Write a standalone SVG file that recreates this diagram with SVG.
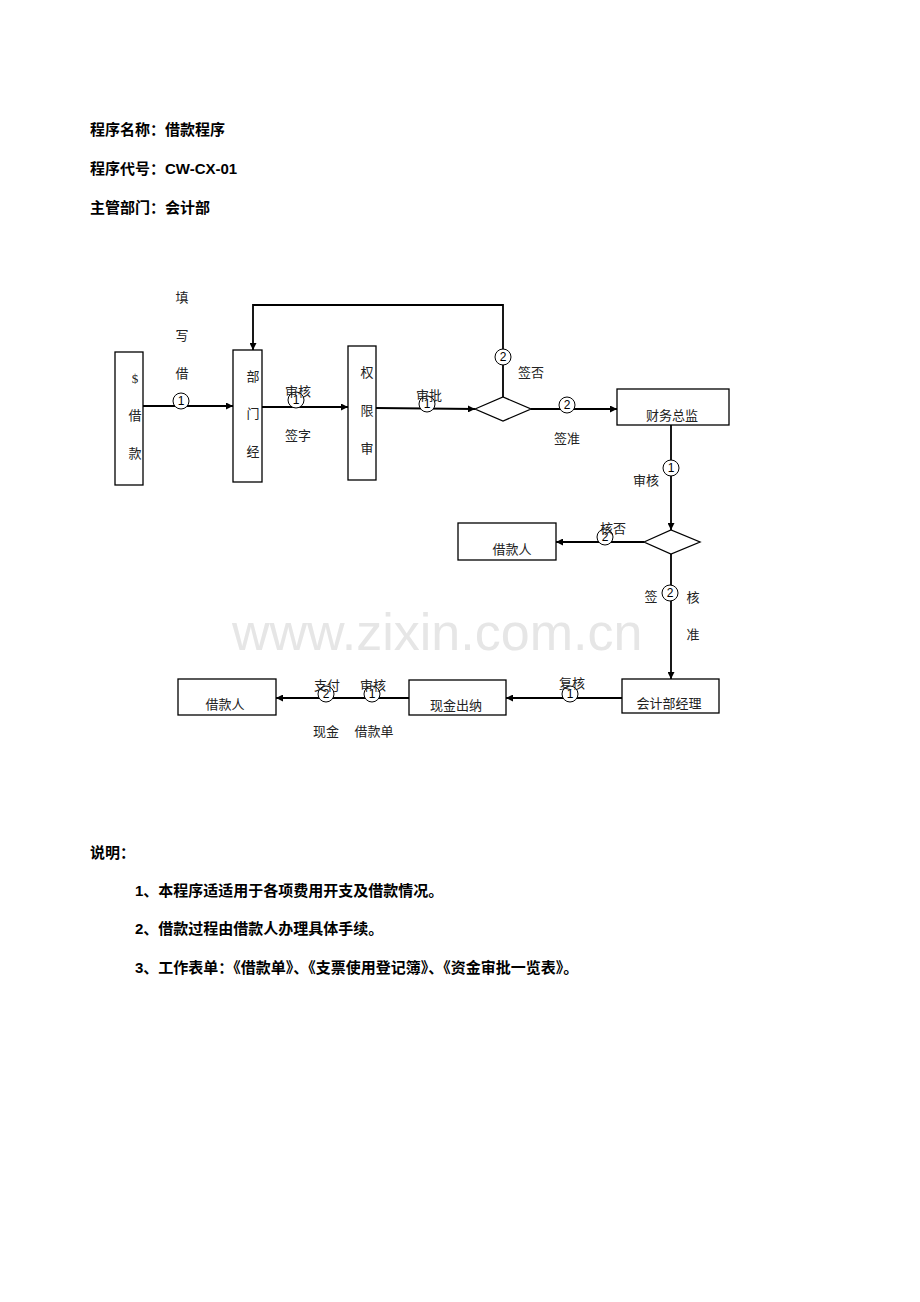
<svg xmlns="http://www.w3.org/2000/svg" width="920" height="1302" viewBox="0 0 920 1302">
<style>
.h{font-family:"Liberation Sans","Noto Sans CJK SC",sans-serif;font-size:15px;font-weight:bold;fill:#000}
.t{font-family:"Liberation Serif","Noto Sans CJK SC",serif;font-size:13px;fill:#222;text-anchor:middle}
.b{fill:#fff;stroke:#000;stroke-width:1.3}
.l{fill:none;stroke:#000;stroke-width:1.3}
.a{fill:none;stroke:#000;stroke-width:1.8;marker-end:url(#ar)}
.c{fill:#fff;stroke:#000;stroke-width:1}
.n{font-family:"Liberation Sans",sans-serif;font-size:12px;text-anchor:middle;fill:#000}
</style>
<defs><marker id="ar" viewBox="0 0 10 10" refX="10" refY="5" markerWidth="7" markerHeight="7" markerUnits="userSpaceOnUse" orient="auto"><path d="M0,0L10,5L0,10z" fill="#000"/></marker></defs>
<rect width="920" height="1302" fill="#fff"/>
<text x="232" y="650" font-family="Liberation Sans,sans-serif" font-size="52" fill="#e6e6e6">www.zixin.com.cn</text>
<g id="header">
<text class="h" x="90" y="135">程序名称：借款程序</text>
<text class="h" x="90" y="174">程序代号：CW-CX-01</text>
<text class="h" x="90" y="213">主管部门：会计部</text>
</g>
<g id="connectors">
<line class="a" x1="143" y1="406" x2="233" y2="406"/>
<line class="a" x1="262" y1="407" x2="348" y2="407"/>
<line class="a" x1="376" y1="408" x2="475" y2="409"/>
<path class="a" d="M503,397V305H253V350"/>
<line class="a" x1="531" y1="409" x2="617" y2="409"/>
<line class="a" x1="671" y1="425" x2="671" y2="530"/>
<line class="a" x1="644" y1="542" x2="556" y2="542"/>
<line class="a" x1="671" y1="554" x2="671" y2="679"/>
<line class="a" x1="622" y1="698" x2="506" y2="698"/>
<line class="a" x1="409" y1="698" x2="276" y2="698"/>
<g>
<circle class="c" cx="181" cy="401" r="8"/><text class="n" x="181" y="405">1</text>
<circle class="c" cx="296" cy="400" r="8"/><text class="n" x="296" y="404">1</text>
<circle class="c" cx="427" cy="404" r="8"/><text class="n" x="427" y="408">1</text>
<circle class="c" cx="503" cy="357" r="8"/><text class="n" x="503" y="361">2</text>
<circle class="c" cx="567" cy="405" r="8"/><text class="n" x="567" y="409">2</text>
<circle class="c" cx="671" cy="468" r="8"/><text class="n" x="671" y="472">1</text>
<circle class="c" cx="605" cy="537" r="8"/><text class="n" x="605" y="541">2</text>
<circle class="c" cx="670" cy="593" r="8"/><text class="n" x="670" y="597">2</text>
<circle class="c" cx="570" cy="694" r="8"/><text class="n" x="570" y="698">1</text>
<circle class="c" cx="372" cy="694" r="8"/><text class="n" x="372" y="698">1</text>
<circle class="c" cx="326" cy="694" r="8"/><text class="n" x="326" y="698">2</text>
</g>
<g>
<text class="t" x="182" y="302">填</text><text class="t" x="182" y="340">写</text><text class="t" x="182" y="378">借</text>
<text class="t" x="298" y="396">审核</text><text class="t" x="298" y="440">签字</text>
<text class="t" x="429" y="400">审批</text>
<text class="t" x="531" y="377">签否</text><text class="t" x="567" y="443">签准</text>
<text class="t" x="646" y="485">审核</text><text class="t" x="613" y="533">核否</text>
<text class="t" x="651" y="601">签</text><text class="t" x="693" y="602">核</text><text class="t" x="693" y="639">准</text>
<text class="t" x="572" y="688">复核</text>
<text class="t" x="327" y="690">支付</text><text class="t" x="373" y="690">审核</text>
<text class="t" x="326" y="736">现金</text><text class="t" x="374" y="736">借款单</text>
</g>
</g>
<g id="n1"><rect class="b" x="115" y="352" width="28" height="133"/><text class="t" x="135" y="383">$</text><text class="t" x="135" y="420">借</text><text class="t" x="135" y="458">款</text></g>
<g id="n2"><rect class="b" x="233" y="350" width="29" height="132"/><text class="t" x="253" y="381">部</text><text class="t" x="253" y="418">门</text><text class="t" x="253" y="456">经</text></g>
<g id="n3"><rect class="b" x="348" y="346" width="28" height="134"/><text class="t" x="367" y="377">权</text><text class="t" x="367" y="415">限</text><text class="t" x="367" y="453">审</text></g>
<g id="d1"><polygon class="b" points="475,409 503,397 531,409 503,421"/></g>
<g id="n4"><rect class="b" x="617" y="389" width="112" height="36"/><text class="t" x="672" y="420">财务总监</text></g>
<g id="d2"><polygon class="b" points="644,542 671,530 700,542 671,554"/></g>
<g id="n5"><rect class="b" x="458" y="523" width="98" height="37"/><text class="t" x="512" y="554">借款人</text></g>
<g id="n6"><rect class="b" x="622" y="679" width="97" height="34"/><text class="t" x="669" y="708">会计部经理</text></g>
<g id="n7"><rect class="b" x="409" y="680" width="97" height="35"/><text class="t" x="456" y="710">现金出纳</text></g>
<g id="n8"><rect class="b" x="178" y="679" width="98" height="36"/><text class="t" x="225" y="709">借款人</text></g>
<g id="notes">
<text class="h" x="90" y="858">说明：</text>
<text class="h" x="135" y="896">1、本程序适适用于各项费用开支及借款情况。</text>
<text class="h" x="135" y="934">2、借款过程由借款人办理具体手续。</text>
<text class="h" x="135" y="973">3、工作表单：《借款单》、《支票使用登记簿》、《资金审批一览表》。</text>
</g>
</svg>
